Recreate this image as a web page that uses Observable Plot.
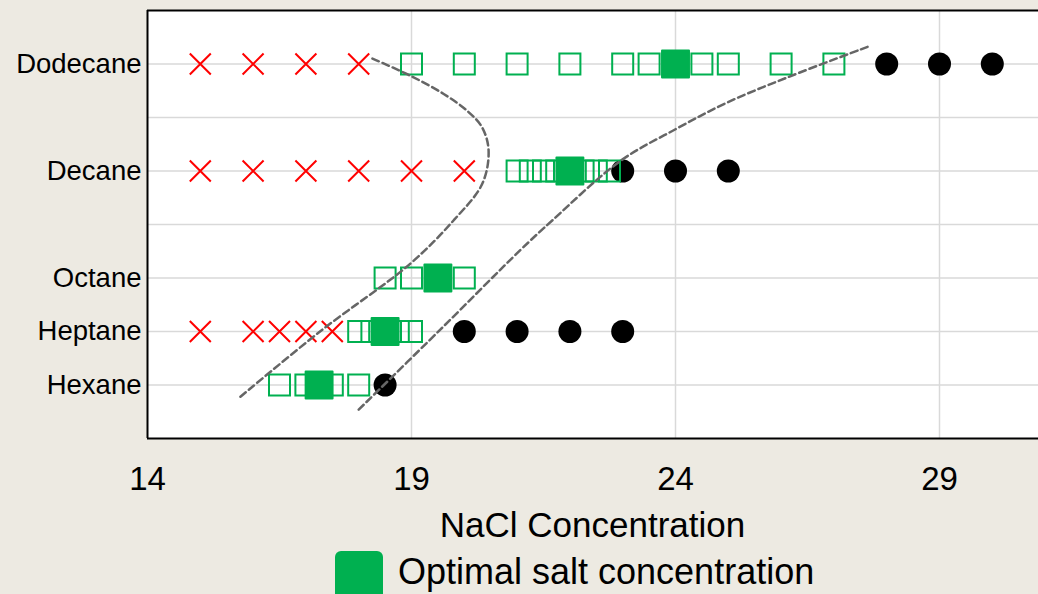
<!DOCTYPE html>
<html>
<head>
<meta charset="utf-8">
<script src="https://cdn.jsdelivr.net/npm/d3@7"></script>
<script src="https://cdn.jsdelivr.net/npm/@observablehq/plot@0.6"></script>
<style>
  html, body { margin: 0; padding: 0; background: #EDEAE2; }
  #chart { position: relative; width: 1038px; height: 594px; overflow: hidden;
           font-family: "Liberation Sans", Arial, sans-serif; color: #000; }
  #chart svg { position: absolute; left: 0; top: 0; }
  #xtitle { position: absolute; left: 147px; width: 891px; top: 507px; text-align: center;
            font-size: 35px; line-height: 35px; }
  #legend { position: absolute; left: 335px; top: 551px; display: flex; align-items: flex-start; }
  #legend .swatch { width: 48px; height: 48px; background: #00B050; border-radius: 6px; }
  #legend .label { font-size: 36px; line-height: 36px; margin-left: 15px; margin-top: 3px; }
</style>
</head>
<body>
<div id="chart"></div>
<script>
// Alkanes tested, plotted by carbon number
const alkanes = ["Hexane", "Heptane", "Octane", "Decane", "Dodecane"];
const carbonNumber = [6, 7, 8, 10, 12];

// NaCl concentrations of each sample, per alkane (same order as above)
const belowRange = [[], [15, 16, 16.5, 17, 17.5], [], [15, 16, 17, 18, 19, 20], [15, 16, 17, 18]];
const threePhase = [
  [16.5, 17, 17.5, 18],
  [18, 18.25, 18.75, 19],
  [18.5, 19, 20],
  [21, 21.25, 21.5, 21.75, 22.25, 22.5, 22.75],
  [19, 20, 21, 22, 23, 23.5, 24.5, 25, 26, 27]
];
const optimalSalt = [17.25, 18.5, 19.5, 22, 24];
const aboveRange = [[18.5], [20, 21, 22, 23], [], [23, 24, 25], [28, 29, 30]];

// Hand-traced phase boundaries (salt, carbon number)
const lowerBoundSalt   = [15.76, 17.28, 18.98, 19.80, 20.34, 20.46, 20.34, 20.06, 19.61, 18.98, 18.24];
const lowerBoundCarbon = [5.78, 7.01, 8.27, 9.08, 9.76, 10.38, 10.81, 11.12, 11.44, 11.78, 12.11];
const upperBoundSalt   = [18.00, 19.55, 21.06, 21.67, 22.96, 24.00, 24.98, 26.12, 27.69];
const upperBoundCarbon = [5.54, 7.04, 8.52, 9.08, 10.19, 10.78, 11.28, 11.75, 12.34];

// Axis ticks and grid
const xTicks = [14, 19, 24, 29];
const xGrid = [19, 24, 29];
const yGrid = [6, 7, 8, 9, 10, 11, 12];

const toPoints = (groups) =>
  groups.flatMap((salts, i) => salts.map(s => ({salt: s, carbon: carbonNumber[i]})));

const below = toPoints(belowRange);
const three = toPoints(threePhase);
const above = toPoints(aboveRange);
const optimal = optimalSalt.map((s, i) => ({salt: s, carbon: carbonNumber[i]}));
const lowerBound = lowerBoundSalt.map((s, i) => ({salt: s, carbon: lowerBoundCarbon[i]}));
const upperBound = upperBoundSalt.map((s, i) => ({salt: s, carbon: upperBoundCarbon[i]}));

const green = "#00B050";

const plot = Plot.plot({
  width: 1038,
  height: 498,
  marginTop: 10,
  marginLeft: 147,
  marginRight: 0,
  marginBottom: 60,
  style: {background: "transparent", color: "#000", fontFamily: "'Liberation Sans', Arial, sans-serif"},
  x: {domain: [14, 31], range: [147, 147 + 17 * 52.8]},
  y: {domain: [5, 13]},
  marks: [
    Plot.frame({fill: "white", stroke: null}),
    Plot.gridX(xGrid, {stroke: "#D9D9D9", strokeOpacity: 1, strokeWidth: 1.5}),
    Plot.gridY(yGrid, {stroke: "#D9D9D9", strokeOpacity: 1, strokeWidth: 1.5}),
    Plot.ruleX([14], {stroke: "#000", strokeWidth: 2}),
    Plot.ruleY([5, 13], {stroke: "#000", strokeWidth: 2}),
    Plot.dot(above, {x: "salt", y: "carbon", r: 11.5, fill: "#000", stroke: null}),
    Plot.dot(three, {x: "salt", y: "carbon", symbol: "square", r: 11.85, fill: "none", stroke: green, strokeWidth: 2}),
    Plot.dot(optimal, {x: "salt", y: "carbon", symbol: "square", r: 15.2, fill: green, stroke: green, strokeWidth: 2, strokeLinejoin: "round"}),
    Plot.dot(below, {x: "salt", y: "carbon", symbol: "times", r: 9.6, stroke: "#FF0000", strokeWidth: 2}),
    Plot.line(lowerBound, {x: "salt", y: "carbon", curve: "catmull-rom", stroke: "#666", strokeWidth: 2.5, strokeDasharray: "7,4"}),
    Plot.line(upperBound, {x: "salt", y: "carbon", curve: "catmull-rom", stroke: "#666", strokeWidth: 2.5, strokeDasharray: "7,4"}),
    Plot.axisX(xTicks, {tickSize: 0, tickPadding: 28, fontSize: 33, label: null}),
    Plot.axisY(carbonNumber, {tickSize: 0, tickPadding: 6, fontSize: 27.5, label: null,
      tickFormat: d => alkanes[carbonNumber.indexOf(d)]})
  ]
});

const chart = document.getElementById("chart");
chart.appendChild(plot);

const title = document.createElement("div");
title.id = "xtitle";
title.textContent = "NaCl Concentration";
chart.appendChild(title);

const legend = document.createElement("div");
legend.id = "legend";
legend.innerHTML = '<div class="swatch"></div><div class="label">Optimal salt concentration</div>';
chart.appendChild(legend);
</script>
</body>
</html>
